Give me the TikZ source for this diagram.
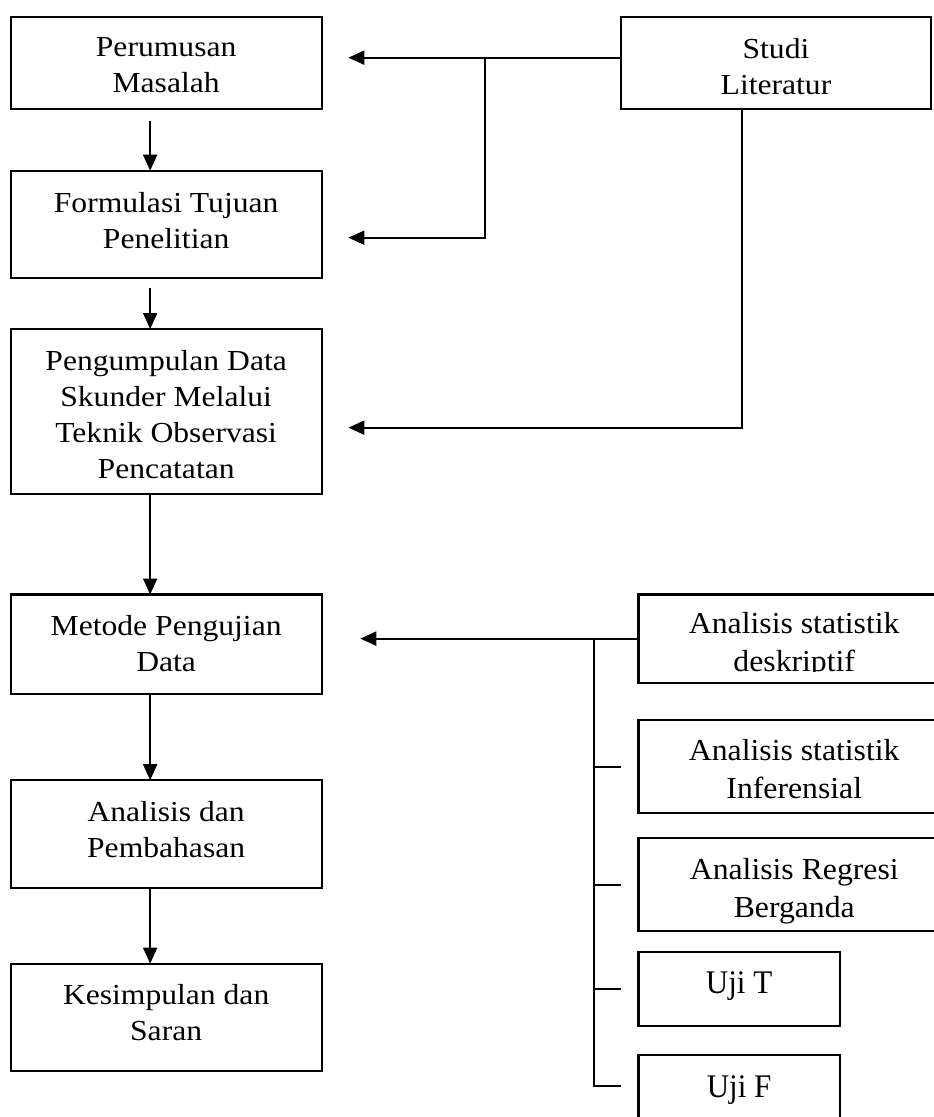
\documentclass[tikz,border=0pt]{standalone}
\usepackage{fontspec}
\setmainfont{Liberation Serif}[FakeStretch=1.09]
\newfontfamily\sidefont{Liberation Serif}[FakeStretch=1.04]
\newfontfamily\ujifont{Liberation Serif}[FakeStretch=0.94]
\usepackage{trimclip}
\usepackage{tikz}
\usetikzlibrary{shapes,arrows.meta,positioning,calc}

\begin{document}
\begin{tikzpicture}[x=1pt, y=-1pt,
  box/.style={draw, line width=2.1pt, rectangle, anchor=north west, inner sep=0pt, outer sep=0pt},
  lbl/.style={align=center, inner sep=0pt, font=\fontsize{29}{36}\selectfont},
  sidelbl/.style={align=center, inner sep=0pt, font=\sidefont\fontsize{30.5}{37.4}\selectfont},
  ujilbl/.style={align=center, inner sep=0pt, font=\ujifont\fontsize{33}{40}\selectfont},
  arr/.style={line width=2.1pt, -{Triangle[length=16pt,width=14pt]}},
  link/.style={line width=2.1pt}]
\useasboundingbox (0,0) rectangle (934,1117);
\clip (0,0) rectangle (934,1117);

% Main flow (left column)
\node[box, minimum width=310.9pt, minimum height=92pt] (perumusan) at (10.7,16.7) {};
\node[lbl, below=21pt of perumusan.north] {Perumusan\\Masalah};

\node[box, minimum width=310.9pt, minimum height=107pt] (formulasi) at (10.7,170.7) {};
\node[lbl, below=21pt of formulasi.north] {Formulasi Tujuan\\Penelitian};

\node[box, minimum width=310.9pt, minimum height=165.3pt] (pengumpulan) at (10.7,329) {};
\node[lbl, below=21pt of pengumpulan.north] {Pengumpulan Data\\Skunder Melalui\\Teknik Observasi\\Pencatatan};

\node[box, minimum width=310.9pt, minimum height=99.1pt] (metode) at (10.7,594.5) {};
\node[lbl, below=21pt of metode.north] {Metode Pengujian\\Data};

\node[box, minimum width=310.9pt, minimum height=107.4pt] (analisis) at (10.7,780.2) {};
\node[lbl, below=21pt of analisis.north] {Analisis dan\\Pembahasan};

\node[box, minimum width=310.9pt, minimum height=107pt] (kesimpulan) at (10.7,963.6) {};
\node[lbl, below=21pt of kesimpulan.north] {Kesimpulan dan\\Saran};

% Studi literatur
\node[box, minimum width=310pt, minimum height=92pt] (studi) at (621,16.7) {};
\node[lbl, below=21pt of studi.north] {Studi\\Literatur};

% Test methods (right column)
\node[box, minimum width=311.5pt, minimum height=88.2pt] (deskriptif) at (638.5,594.5) {};
\node[sidelbl, below=18pt of deskriptif.north] {Analisis statistik\\\clipbox{0pt {\depth} 0pt 0pt}{deskriptif}};

\node[box, minimum width=311.5pt, minimum height=92.5pt] (inferensial) at (638.5,720.4) {};
\node[sidelbl, below=19pt of inferensial.north] {Analisis statistik\\Inferensial};

\node[box, minimum width=311.5pt, minimum height=92.5pt] (regresi) at (638.5,838.4) {};
\node[sidelbl, below=20pt of regresi.north] {Analisis Regresi\\Berganda};

\node[box, minimum width=201.2pt, minimum height=74.3pt] (ujit) at (638.5,951.8) {};
\node[ujilbl, below=20pt of ujit.north] {Uji T};

\node[box, minimum width=201.2pt, minimum height=74.3pt] (ujif) at (638.5,1055) {};
\node[ujilbl, below=20pt of ujif.north] {Uji F};

% Down arrows
\draw[arr] ([xshift=-16pt,yshift=-12pt]perumusan.south) -- ([xshift=-16pt]formulasi.north);
\draw[arr] ([xshift=-16pt,yshift=-10pt]formulasi.south) -- ([xshift=-16pt]pengumpulan.north);
\draw[arr] ([xshift=-16pt]pengumpulan.south) -- ([xshift=-16pt]metode.north);
\draw[arr] ([xshift=-16pt]metode.south) -- ([xshift=-16pt]analisis.north);
\draw[arr] ([xshift=-16pt]analisis.south) -- ([xshift=-16pt]kesimpulan.north);

% From Studi Literatur
\coordinate (jA) at (485.4,57.7);
\draw[arr, shorten >=26.8pt] ([yshift=5pt]studi.west) -- ([yshift=5pt]perumusan.east);
\draw[arr, shorten >=26.8pt] (jA) |- ([yshift=-13.5pt]formulasi.east);
\draw[arr, shorten >=26.8pt] ([xshift=-33.8pt]studi.south) |- ([yshift=-16pt]pengumpulan.east);

% Into Metode Pengujian
\draw[arr, shorten >=38.7pt] (deskriptif.west) -- (deskriptif.west -| metode.east);
\draw[link] ([xshift=-44.7pt]deskriptif.west) |- ([xshift=-17.3pt,yshift=5.8pt]ujif.west);
\foreach \n in {inferensial,regresi,ujit}
  \draw[link] ([xshift=-44.7pt]\n.west) -- ([xshift=-17.3pt]\n.west);
\end{tikzpicture}
\end{document}
